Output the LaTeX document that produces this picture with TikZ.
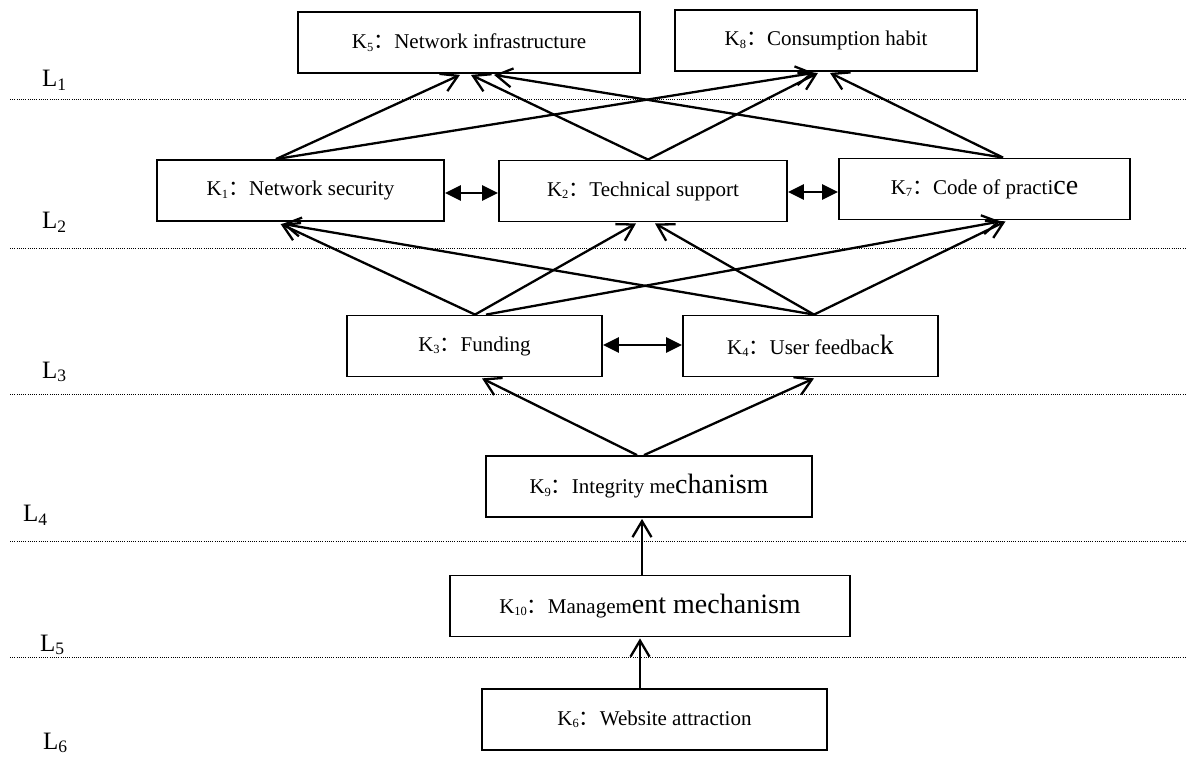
\documentclass[tikz,border=0pt]{standalone}
\usepackage{fontspec}
\setmainfont{Liberation Serif}
\newfontfamily\cjkfont{Noto Sans CJK SC}
\usetikzlibrary{arrows.meta}
\newcommand{\ksub}[1]{\raisebox{-0.12em}{\fontsize{12.5}{13}\selectfont #1}}
\newcommand{\kk}[2]{K\ksub{#1}{\cjkfont ：}#2}
\newcommand{\bigpart}[1]{{\fontsize{28}{30}\selectfont #1}}
\begin{document}
\begin{tikzpicture}[x=1pt,y=-1pt,
  box/.style={draw, line width=1.8pt, minimum height=61pt, inner sep=0pt, font=\fontsize{21}{25}\selectfont},
  arr/.style={line width=2.3pt, -{Straight Barb[length=16pt,width=19pt]}},
  dbl/.style={line width=2.6pt, {Triangle[length=16pt,width=15pt]}-{Triangle[length=16pt,width=15pt]}},
  lay/.style={line width=1pt, dash pattern=on 1pt off 1.2pt},
  lab/.style={anchor=west, inner sep=0pt, font=\fontsize{25}{28}\selectfont}]
\fill[white] (0,0) rectangle (1194,762);
\useasboundingbox (0,0) rectangle (1194,762);

% layer separators
\draw[lay] (10,100) -- (1186,100);
\draw[lay] (10,248) -- (1186,248);
\draw[lay] (10,394) -- (1186,394);
\draw[lay] (10,541) -- (1186,541);
\draw[lay] (10,657) -- (1186,657);

% layer labels
\node[lab] (L1) at (42,80) {L\textsubscript{1}};
\node[lab] (L2) at (42,222) {L\textsubscript{2}};
\node[lab] (L3) at (42,372) {L\textsubscript{3}};
\node[lab] (L4) at (23,515) {L\textsubscript{4}};
\node[lab] (L5) at (40,645) {L\textsubscript{5}};
\node[lab] (L6) at (43,743) {L\textsubscript{6}};

% boxes
\node[box, minimum width=342pt] (K5) at (469,42.5) {\kk{5}{Network infrastructure}};
\node[box, minimum width=302pt] (K8) at (826,40.5) {\kk{8}{Consumption habit}};
\node[box, minimum width=287pt] (K1) at (300.5,190.5) {\kk{1}{Network security}};
\node[box, minimum width=288pt] (K2) at (643,191) {\kk{2}{Technical support}};
\node[box, minimum width=291pt] (K7) at (984.5,189) {\kk{7}{Code of practi\bigpart{ce}}};
\node[box, minimum width=255pt] (K3) at (474.5,346) {\kk{3}{Funding}};
\node[box, minimum width=255pt] (K4) at (810.5,346) {\kk{4}{User feedbac\bigpart{k}}};
\node[box, minimum width=326pt] (K9) at (649,486.5) {\kk{9}{Integrity me\bigpart{chanism}}};
\node[box, minimum width=400pt] (K10) at (650,606) {\kk{10}{Managem\bigpart{ent mechanism}}};
\node[box, minimum width=345pt] (K6) at (654.5,719.5) {\kk{6}{Website attraction}};

% L2 -> L1
\draw[arr] ([xshift=-24.5pt]K1.north) -- ([xshift=-9pt,yshift=-1pt]K5.south);
\draw[arr] ([xshift=-24.5pt]K1.north) -- ([xshift=-12pt,yshift=-1pt]K8.south);
\draw[arr] ([xshift=5pt]K2.north) -- ([xshift=2pt,yshift=-1pt]K5.south);
\draw[arr] ([xshift=5pt]K2.north) -- ([xshift=-8pt,yshift=-1pt]K8.south);
\draw[arr] ([xshift=18.5pt]K7.north) -- ([xshift=25pt,yshift=-1pt]K5.south);
\draw[arr] ([xshift=18.5pt]K7.north) -- ([xshift=4pt,yshift=-1pt]K8.south);

% L3 -> L2
\draw[arr] ([xshift=0.5pt]K3.north) -- ([xshift=-20pt,yshift=-2pt]K1.south);
\draw[arr] ([xshift=0.5pt]K3.north) -- ([xshift=-7pt,yshift=-1pt]K2.south);
\draw[arr] ([xshift=11.5pt]K3.north) -- ([xshift=16pt,yshift=-1pt]K7.south);
\draw[arr] ([xshift=3.5pt]K4.north) -- ([xshift=-18pt,yshift=-2pt]K1.south);
\draw[arr] ([xshift=3.5pt]K4.north) -- ([xshift=12pt,yshift=-1pt]K2.south);
\draw[arr] ([xshift=3.5pt]K4.north) -- ([xshift=21pt,yshift=-1pt]K7.south);

% L4 -> L3
\draw[arr] ([xshift=-12pt]K9.north) -- ([xshift=7.5pt,yshift=-1pt]K3.south);
\draw[arr] ([xshift=-5pt]K9.north) -- ([xshift=3.5pt,yshift=-1pt]K4.south);

% L5 -> L4, L6 -> L5
\draw[arr] ([xshift=-8pt]K10.north) -- ([xshift=-7pt,yshift=-1pt]K9.south);
\draw[arr] ([xshift=-14.5pt]K6.north) -- ([xshift=-10pt,yshift=-1pt]K10.south);

% mutual relations
\draw[dbl] ([yshift=-2.5pt]K1.east) -- ([yshift=-2.5pt]K1.east -| K2.west);
\draw[dbl] ([yshift=-1pt]K2.east) -- ([yshift=-1pt]K2.east -| K7.west);
\draw[dbl] ([yshift=1pt]K3.east) -- ([yshift=1pt]K3.east -| K4.west);
\end{tikzpicture}
\end{document}
